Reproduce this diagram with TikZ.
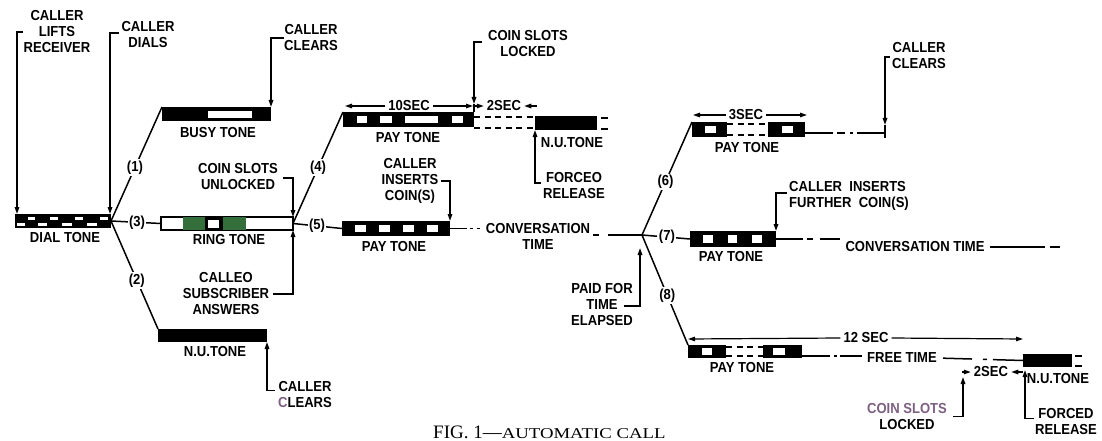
\documentclass[tikz,border=0pt]{standalone}
\usepackage{fontspec}
\usepackage{graphicx}
\setmainfont{Liberation Serif}
\newfontfamily\lf{Liberation Sans}[FakeStretch=0.9]
\usetikzlibrary{arrows.meta,calc}
\definecolor{ringgreen}{RGB}{52,110,58}
\definecolor{fade}{RGB}{125,95,130}
\tikzset{
  lbl/.style={font=\lf\bfseries\fontsize{14.5}{16}\selectfont, inner sep=0pt, align=center},
  num/.style={lbl, fill=white, inner sep=1.5pt},
  bar/.style={draw=none, fill=black, inner sep=0pt, outer sep=0pt},
  ln/.style={line width=1.5pt},
  arr/.style={ln, -{Triangle[length=7pt,width=4.5pt]}},
  dim/.style={line width=1.2pt, -{Triangle[length=7pt,width=4.5pt]}},
  dsh/.style={line width=1.3pt, dash pattern=on 6pt off 4.5pt},
  dimtxt/.style={lbl, inner sep=3pt},
}
\begin{document}
\begin{tikzpicture}[x=1pt,y=-1pt]
\useasboundingbox (0,0) rectangle (1102,441);
\clip (0,0) rectangle (1102,441);

% ---------- tone bars ----------
\node[bar,minimum width=96pt,minimum height=14pt] (dial) at (63,221) {};
\foreach \a/\b in {28/35,50/58,75/83,100/108} \fill[white] (\a,216.5) rectangle (\b,219.5);
\foreach \a/\b in {17/25,38/47,62/72,87/97} \fill[white] (\a,222.5) rectangle (\b,225.5);

\node[bar,minimum width=109pt,minimum height=14pt] (busy) at (216.5,114) {};
\fill[white] (208,111) rectangle (252,118);

\node[bar,fill=white,draw=black,line width=1.2pt,minimum width=132pt,minimum height=13pt] (ring) at (227,223.5) {};
\fill[ringgreen] (183,217) rectangle (205,230);
\fill[black] (205,217) rectangle (223,230);
\fill[white] (208,219.5) rectangle (219,227.5);
\fill[ringgreen] (223,217) rectangle (246,230);

\node[bar,minimum width=109pt,minimum height=13pt] (nu0) at (212.5,335.5) {};

\node[bar,minimum width=131pt,minimum height=15pt] (pay1) at (408.5,119.5) {};
\foreach \a/\b in {357/367,380/392,405/438,452/463} \fill[white] (\a,116) rectangle (\b,123);

\node[bar,minimum width=62pt,minimum height=14pt] (nu1) at (566,123) {};

\node[bar,minimum width=108pt,minimum height=15pt] (pay2) at (396,228.5) {};
\foreach \a/\b in {355/366,379/390,403/414,427/438} \fill[white] (\a,225) rectangle (\b,232);

\node[bar,minimum width=35pt,minimum height=15pt] (pay3a) at (709.5,129.5) {};
\fill[white] (705,126) rectangle (716,133);
\node[bar,minimum width=37pt,minimum height=15pt] (pay3b) at (786.5,129.5) {};
\fill[white] (782,126) rectangle (793,133);

\node[bar,minimum width=86pt,minimum height=16pt] (pay4) at (733,239) {};
\foreach \a/\b in {703/713,728/737,752/762} \fill[white] (\a,235) rectangle (\b,243);

\node[bar,minimum width=38pt,minimum height=13pt] (pay5a) at (707,351.5) {};
\fill[white] (702,348) rectangle (712,355);
\node[bar,minimum width=39pt,minimum height=13pt] (pay5b) at (782.5,351.5) {};
\fill[white] (773,348) rectangle (785,355);

\node[bar,minimum width=49pt,minimum height=13pt] (nu2) at (1047.5,360.5) {};

% ---------- junctions and free ends ----------
\coordinate (j1) at (ring.east);
\coordinate (j2) at (642,235);
\coordinate (cc3) at (885,133);
\coordinate (ptip) at ($(j2)+(-2,13)$);
\coordinate (ce2) at (1060,247);
\coordinate (ltip) at (963,377);
\coordinate (ftip) at (1025,370);

% ---------- tone labels ----------
\node[lbl] (tdial) at (65,238) {DIAL TONE};
\node[lbl] (tbusy) at (218,133) {BUSY TONE};
\node[lbl] (tring) at (229,240) {RING TONE};
\node[lbl] (tnu0) at (215,352) {N.U.TONE};
\node[lbl] (tpay1) at (408,138) {PAY TONE};
\node[lbl] (tnu1) at (572,143) {N.U.TONE};
\node[lbl] (tpay2) at (394,247) {PAY TONE};
\node[lbl] (tpay3) at (747,148) {PAY TONE};
\node[lbl] (tpay4) at (731,257) {PAY TONE};
\node[lbl] (tpay5) at (742,368) {PAY TONE};
\node[lbl] (tnu2) at (1058,379) {N.U.TONE};

% ---------- branches ----------
\draw[ln] (dial.east) -- (busy.north west) node[num,pos=0.47] (n1) {(1)};
\draw[ln] (dial.east) -- (ring.west) node[num,pos=0.52] (n3) {(3)};
\draw[ln] (dial.east) -- (nu0.north west) node[num,pos=0.55] (n2) {(2)};
\draw[ln] (j1) -- (pay1.north west) node[num,pos=0.5] (n4) {(4)};
\draw[ln] (j1) -- (pay2.west) node[num,pos=0.49] (n5) {(5)};
\draw[ln] (j2) -- (pay3a.north west) node[num,pos=0.47] (n6) {(6)};
\draw[ln] (j2) -- (pay4.west) node[num,pos=0.52] (n7) {(7)};
\draw[ln] (j2) -- (pay5a.north west) node[num,pos=0.55] (n8) {(8)};

% ---------- conversation / free-time lines ----------
\node[lbl] (conv1) at (538,236) {CONVERSATION\\TIME};
\draw[ln,dash pattern=on 17pt off 3pt on 3pt off 4pt on 3pt off 20pt] (pay2.east) -- (pay2.east -| conv1.west);
\draw[ln,dash pattern=on 0pt off 3pt on 6pt off 9pt on 40pt] (conv1.east |- j2) -- (j2);

\node[lbl] (conv2) at (915,247) {CONVERSATION TIME};
\draw[ln,dash pattern=on 27pt off 4pt on 6pt off 7pt on 20pt off 10pt] (pay4.east) -- (pay4.east -| conv2.west);
\draw[ln,dash pattern=on 0pt off 5pt on 55pt off 5pt on 7pt] (conv2.east) -- (ce2);

\draw[dsh] ($(pay1.north east)+(0,5)$) -- ($(nu1.north west)+(0,1)$);
\draw[dsh] ($(pay1.south east)+(0,1)$) -- ($(nu1.south west)+(0,-2)$);
\draw[ln] ($(nu1.north east)+(4,2)$) -- ++(7,0);
\draw[ln] ($(nu1.south east)+(4,-1)$) -- ++(7,0);

\draw[dsh] ($(pay3a.north east)+(0,2)$) -- ($(pay3b.north west)+(0,2)$);
\draw[dsh] ($(pay3a.south east)+(0,-2)$) -- ($(pay3b.south west)+(0,-2)$);
\draw[ln,dash pattern=on 28pt off 4pt on 8pt off 5pt on 3pt off 4pt on 40pt] ($(pay3b.east)+(0,3.5)$) -- (cc3);

\draw[dsh] ($(pay5a.north east)+(0,2)$) -- ($(pay5b.north west)+(0,2)$);
\draw[dsh] ($(pay5a.south east)+(0,-2)$) -- ($(pay5b.south west)+(0,-2)$);
\node[lbl] (free) at (902,358) {FREE TIME};
\draw[ln,dash pattern=on 28pt off 4pt on 3pt off 3pt on 22pt off 20pt] ($(pay5b.east)+(0,4.5)$) coordinate (f0) -- (f0 -| free.west);
\draw[ln,dash pattern=on 0pt off 6pt on 29pt off 11pt on 4pt off 6pt on 40pt] (free.east) -- (nu2.west);
\draw[ln] ($(nu2.north east)+(3,2)$) -- ++(7,0);
\draw[ln] ($(nu2.south east)+(3,-1)$) -- ++(7,0);

% ---------- dimensions ----------
\node[dimtxt] (d10) at (409,106) {10SEC};
\draw[dim] (d10.west) -- ($(pay1.north west)+(2,-6)$);
\draw[dim] (d10.east) -- ($(pay1.north east)+(-1,-6)$);
\node[dimtxt] (d2a) at (504,106) {2SEC};
\draw[dim] ($(pay1.north east)+(1,-6)$) -- (d2a.west);
\draw[dim] ($(nu1.north west)+(2,-10)$) -- (d2a.east);
\node[dimtxt] (d3) at (746,115) {3SEC};
\draw[dim] (d3.west) -- ($(pay3a.north west)+(1,-7)$);
\draw[dim] (d3.east) -- ($(pay3b.north east)+(2,-7)$);
\node[dimtxt] (d12) at (866,338) {12 SEC};
\draw[dim] (d12.west) -- ($(pay5a.north west)+(0,-6)$);
\draw[dim] (d12.east) -- ($(nu2.north west)+(0,-15)$);
\node[dimtxt] (d2b) at (991,372) {2SEC};
\draw[dim] ($(ltip)+(-1,-5)$) -- (d2b.west);
\draw[dim] ($(ftip)+(-2,2)$) -- (d2b.east);

% ---------- event annotations ----------
\node[lbl] (lifts) at (57,32) {CALLER\\LIFTS\\RECEIVER};
\draw[arr] (lifts.west) -| ($(dial.north west)+(2,0)$);
\node[lbl] (dials) at (148,35) {CALLER\\DIALS};
\draw[arr] ($(dials.west)+(-2,-2)$) -| ($(dial.north east)+(-1,0)$);
\node[lbl] (clr1) at (311,38) {CALLER\\CLEARS};
\draw[arr] (clr1.west) -| (busy.north east);
\node[lbl] (unl) at (238,177) {COIN SLOTS\\UNLOCKED};
\draw[arr] ($(unl.east)+(5,1)$) -| (ring.north east);
\node[lbl] (ans) at (226,294) {CALLEO\\SUBSCRIBER\\ANSWERS};
\draw[arr] ($(ans.east)+(4,0)$) -| (ring.south east);
\node[lbl] (clr2) at (305,394.5) {CALLER\\{\color{fade}C}LEARS};
\draw[arr] ($(clr2.west)+(-3,-4)$) -| (nu0.south east);
\node[lbl] (lck1) at (528,44) {COIN SLOTS\\LOCKED};
\draw[arr] ($(lck1.west)+(-6,-2)$) -| ($(pay1.north east)+(0,-8)$);
\draw[ln] ($(pay1.north east)+(0,-8)$) -- (pay1.north east);
\node[lbl] (frc1) at (574,186) {FORCEO\\RELEASE};
\draw[arr] ($(frc1.west)+(-2,-3)$) -| (nu1.south west);
\node[lbl] (coins) at (410,181) {CALLER\\INSERTS\\COIN(S)};
\draw[arr] ($(coins.east)+(3,0)$) -| (pay2.north east);
\node[lbl] (paid) at (602,305) {PAID FOR\\TIME\\ELAPSED};
\draw[arr] ($(paid.center)+(22,1)$) -| (ptip);
\node[lbl] (clr3) at (919,56) {CALLER\\CLEARS};
\draw[arr] ($(clr3.west)+(-2,1)$) -| ($(cc3)+(0,-8)$);
\draw[ln] ($(cc3)+(0,-8)$) -- ($(cc3)+(0,5)$);
\node[lbl,align=left,anchor=west] (fur) at (789,196) {CALLER\ \ INSERTS\\FURTHER\ \ COIN(S)};
\draw[arr] ($(fur.west)+(-2,-3)$) -| (pay4.north east);
\node[lbl] (lck2) at (907,416.5) {{\color{fade}COIN SLOTS}\\LOCKED};
\draw[arr] ($(lck2.east)+(6,0)$) -| (ltip);
\node[lbl] (frc2) at (1066,421.5) {FORCED\\RELEASE};
\draw[arr] ($(frc2.west)+(-1,-3)$) -| (ftip);

% ---------- caption ----------
\node[anchor=base west,inner sep=0pt,font=\fontsize{19}{19}\selectfont] (cap) at (433,438)
  {FIG. 1—{\fontsize{15}{15}\selectfont\scalebox{1.25}[1]{AUTOMATIC CALL}}};
\end{tikzpicture}
\end{document}
